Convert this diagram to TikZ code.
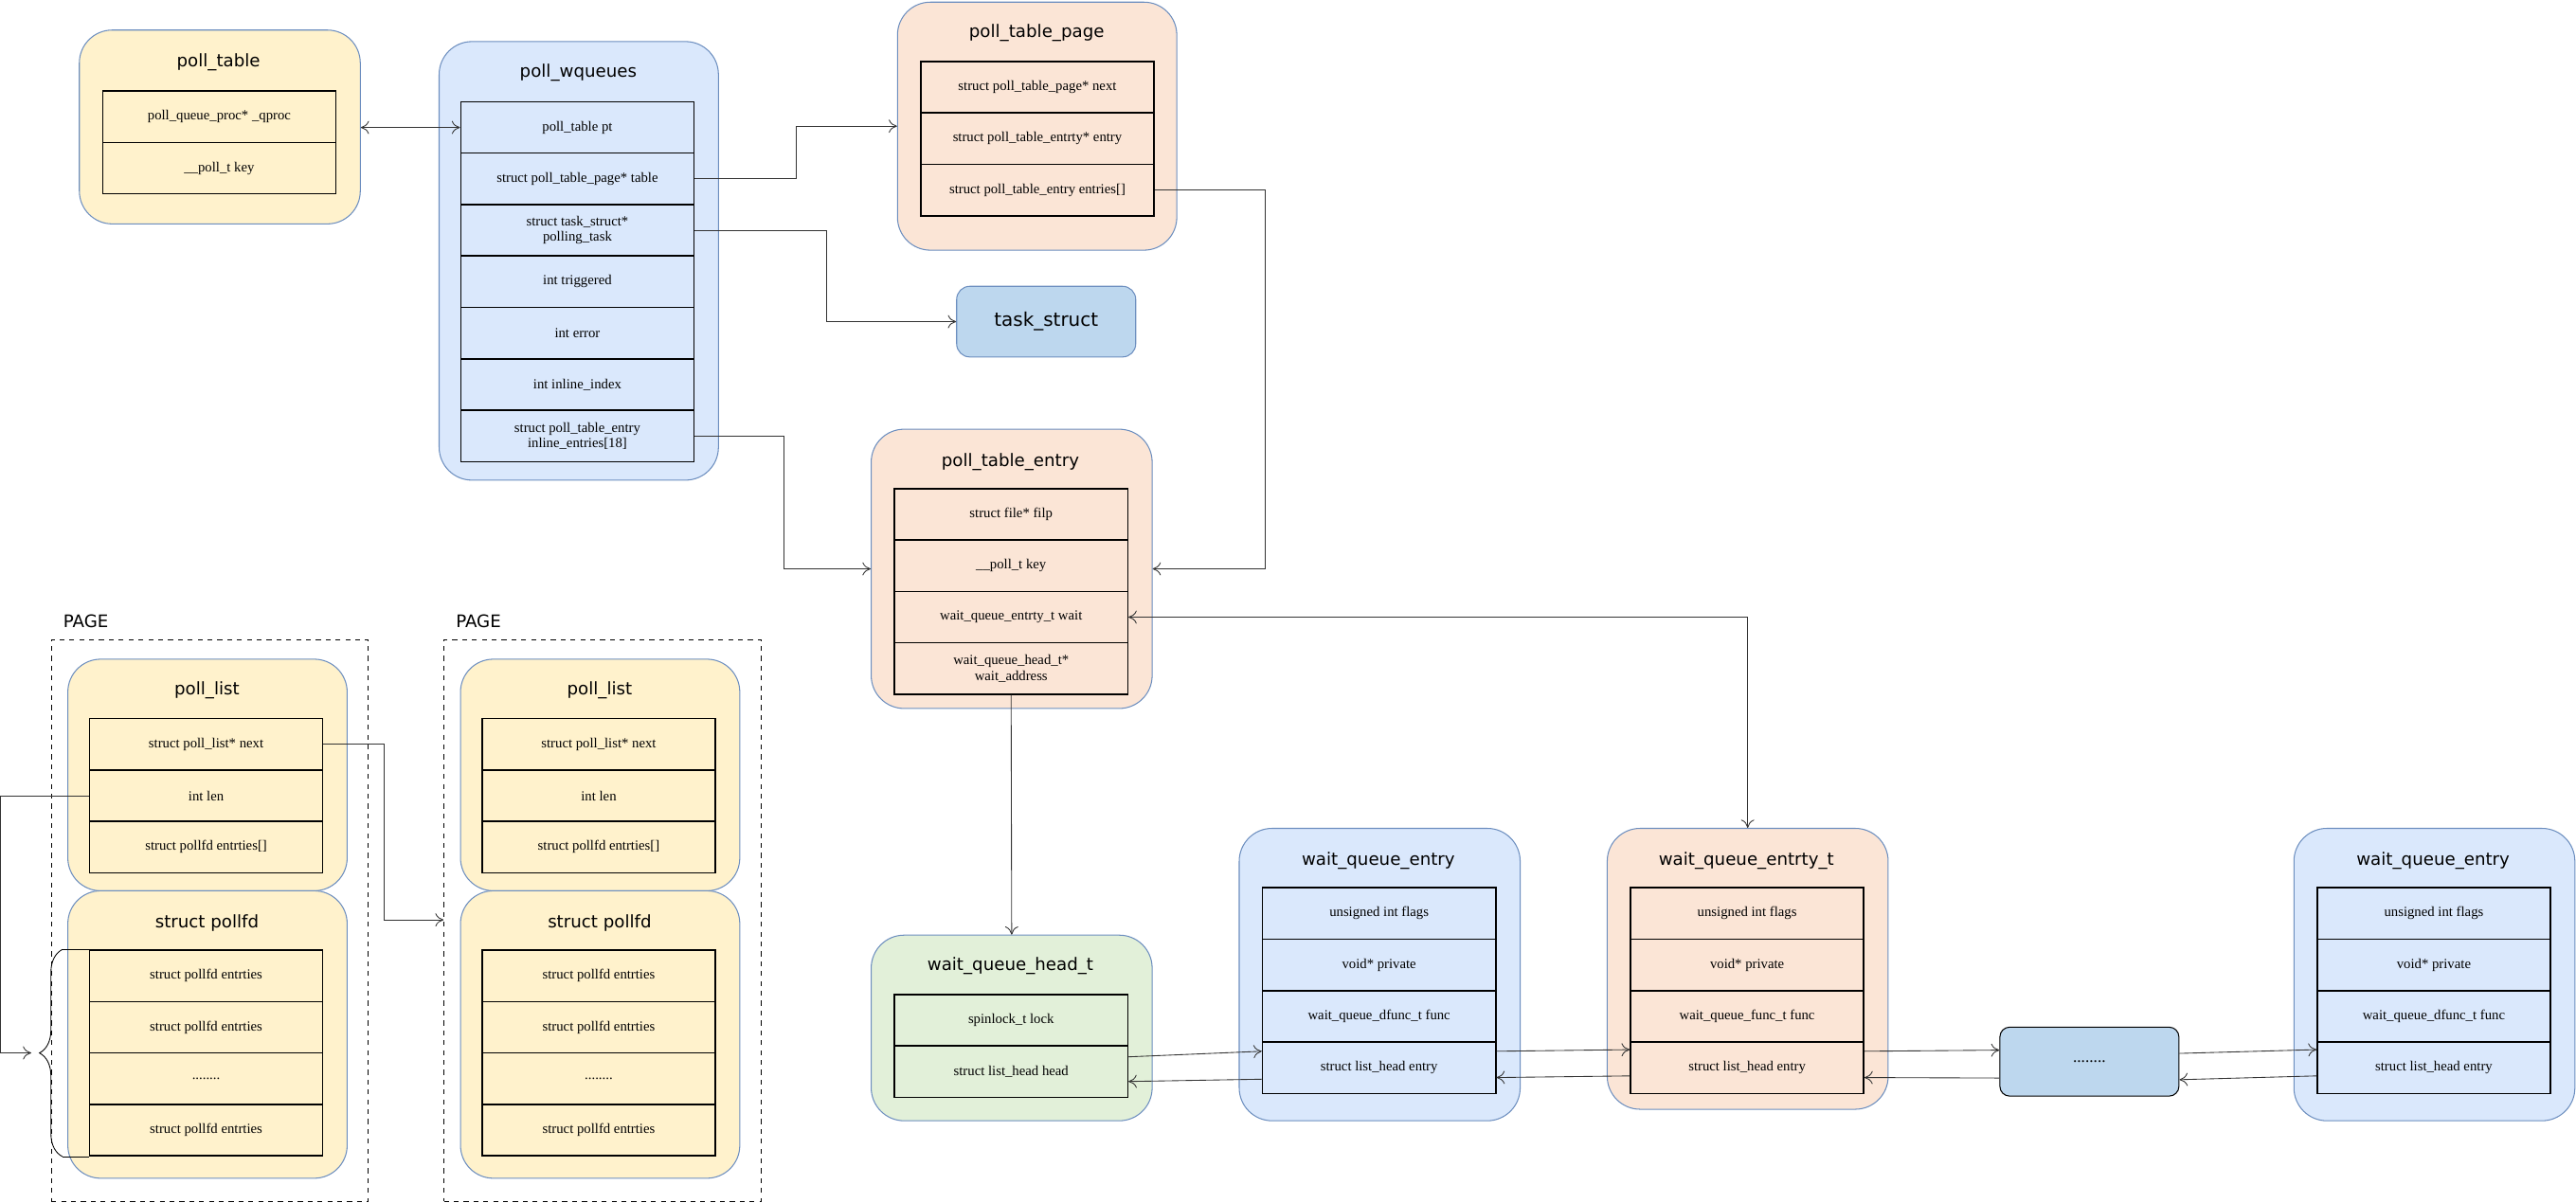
\documentclass[tikz,border=0pt]{standalone}
\usepackage{fontspec}
\setmainfont{Liberation Serif}
\newfontfamily\titlefont{DejaVu Sans}
\usetikzlibrary{arrows.meta,calc,decorations.pathreplacing}

\definecolor{ylw}{HTML}{FFF2CC}
\definecolor{blu}{HTML}{DAE8FC}
\definecolor{pch}{HTML}{FBE5D6}
\definecolor{grn}{HTML}{E2F0D9}
\definecolor{tsk}{HTML}{BDD7EE}
\definecolor{edge}{HTML}{6C8EBF}

\tikzset{
  box/.style={draw=edge, line width=0.6pt, rounded corners=20pt, anchor=north west, inner sep=0pt},
  ttl/.style={font=\titlefont\fontsize{10.5}{12}\selectfont},
  field/.style={draw, line width=0.9pt, minimum width=142pt, minimum height=31.3pt, inner sep=1pt,
    anchor=north west, align=center, font=\fontsize{8.5}{9.5}\selectfont},
  arr/.style={draw=black!80, line width=0.5pt, -{To[length=5pt,width=8pt]}},
}

\newcommand\ellip{........}
% column of fields: prefix, x, y, fill, texts
\newcommand\fieldcol[5]{%
  \foreach \t [count=\i] in {#5}
    \node[field, fill=#4] (#1\i) at (#2,{#3+31.3*(\i-1)}) {\t};}

\begin{document}
\begin{tikzpicture}[x=1pt,y=-1pt]
\useasboundingbox (0,0) rectangle (1568,732);

% containers
\node[box, fill=ylw, minimum width=171pt, minimum height=118pt] (ptab) at (48,18) {};
\node[box, fill=blu, minimum width=170pt, minimum height=267pt] (wq) at (267,25) {};
\node[box, fill=pch, minimum width=170pt, minimum height=151pt] (ptp) at (546,1) {};
\node[box, fill=tsk, rounded corners=8pt, minimum width=109pt, minimum height=43pt] (task) at (582,174) {};
\node[box, fill=pch, minimum width=171pt, minimum height=170pt] (pte) at (530,261) {};
\node[box, fill=grn, minimum width=171pt, minimum height=113pt] (wqh) at (530,569) {};
\node[box, fill=blu, minimum width=171pt, minimum height=178pt] (wqeA) at (754,504) {};
\node[box, fill=pch, minimum width=171pt, minimum height=171pt] (wqet) at (978,504) {};
\node[box, fill=tsk, draw=black, rounded corners=6pt, minimum width=109pt, minimum height=42pt] (dots) at (1217,625) {};
\node[box, fill=blu, minimum width=171pt, minimum height=178pt] (wqeB) at (1396,504) {};

% pages
\node[draw, dashed, line width=0.5pt, anchor=north west, minimum width=193pt, minimum height=342pt] (page1) at (31,389) {};
\node[draw, dashed, line width=0.5pt, anchor=north west, minimum width=193pt, minimum height=342pt] (page2) at (270,389) {};
\node[ttl, anchor=west] at (35,378) {PAGE};
\node[ttl, anchor=west] at (274,378) {PAGE};
\node[box, fill=ylw, minimum width=170pt, minimum height=141pt] (plA) at (41,401) {};
\node[box, fill=ylw, minimum width=170pt, minimum height=175pt] (pfA) at (41,542) {};
\node[box, fill=ylw, minimum width=170pt, minimum height=141pt] (plB) at (280,401) {};
\node[box, fill=ylw, minimum width=170pt, minimum height=175pt] (pfB) at (280,542) {};

% titles
\node[ttl] at (133,38) {poll\_table};
\node[ttl] at (352,44) {poll\_wqueues};
\node[ttl] at (631,20) {poll\_table\_page};
\node[ttl, font=\titlefont\fontsize{11.5}{13}\selectfont] at (task.center) {task\_struct};
\node[ttl] at (615,281) {poll\_table\_entry};
\node[ttl] at (615,588) {wait\_queue\_head\_t};
\node[ttl] at (839,524) {wait\_queue\_entry};
\node[ttl] at (1063,524) {wait\_queue\_entrty\_t};
\node at (dots.center) {\ellip};
\node[ttl] at (1481,524) {wait\_queue\_entry};
\node[ttl] at (126,420) {poll\_list};
\node[ttl] at (126,562) {struct pollfd};
\node[ttl] at (365,420) {poll\_list};
\node[ttl] at (365,562) {struct pollfd};

% fields
\fieldcol{ptabf}{62}{55}{ylw}{poll\_queue\_proc* \_qproc,\_\_poll\_t key}
\fieldcol{wqf}{280}{61.5}{blu}{poll\_table pt,struct poll\_table\_page* table,{struct task\_struct*\\polling\_task},int triggered,int error,int inline\_index,{struct poll\_table\_entry\\inline\_entries[18]}}
\fieldcol{ptpf}{560}{37}{pch}{struct poll\_table\_page* next,struct poll\_table\_entrty* entry,struct poll\_table\_entry entries[]}
\fieldcol{ptef}{544}{297}{pch}{struct file* filp,\_\_poll\_t key,wait\_queue\_entrty\_t wait,{wait\_queue\_head\_t*\\wait\_address}}
\fieldcol{wqhf}{544}{605}{grn}{spinlock\_t lock,struct list\_head head}
\fieldcol{wqeAf}{768}{540}{blu}{unsigned int flags,void* private,wait\_queue\_dfunc\_t func,struct list\_head entry}
\fieldcol{wqetf}{992}{540}{pch}{unsigned int flags,void* private,wait\_queue\_func\_t func,struct list\_head entry}
\fieldcol{wqeBf}{1410}{540}{blu}{unsigned int flags,void* private,wait\_queue\_dfunc\_t func,struct list\_head entry}
\fieldcol{plAf}{54}{437}{ylw}{struct poll\_list* next,int len,struct pollfd entrties[]}
\fieldcol{pfAf}{54}{578}{ylw}{struct pollfd entrties,struct pollfd entrties,\ellip,struct pollfd entrties}
\fieldcol{plBf}{293}{437}{ylw}{struct poll\_list* next,int len,struct pollfd entrties[]}
\fieldcol{pfBf}{293}{578}{ylw}{struct pollfd entrties,struct pollfd entrties,\ellip,struct pollfd entrties}

% connectors
\draw[arr, {To[length=5pt,width=8pt]}-{To[length=5pt,width=8pt]}] (ptab.east |- wqf1) -- (wqf1.west);
\draw[arr] (wqf2.east) -- ++(62,0) |- (ptp.west);
\draw[arr] (wqf3.east) -- ++(80,0) |- (task.west);
\draw[arr] (wqf7.east) -- ++(54,0) |- (pte.west);
\draw[arr] (ptpf3.east) -- ++(67,0) |- (pte.east);
\draw[arr, {To[length=5pt,width=8pt]}-{To[length=5pt,width=8pt]}] (ptef3.east) -| (wqet.north);
\draw[arr] (ptef4.south) -- (wqh.north);

\draw[arr] ([yshift=9pt]wqhf2.east) -- ([yshift=10pt]wqeAf4.west);
\draw[arr] ([yshift=-7pt]wqeAf4.west) -- ([yshift=-6pt]wqhf2.east);
\draw[arr] ([yshift=10pt]wqeAf4.east) -- ([yshift=11pt]wqetf4.west);
\draw[arr] ([yshift=-5pt]wqetf4.west) -- ([yshift=-6pt]wqeAf4.east);
\draw[arr] ([yshift=10pt]wqetf4.east) -- ([yshift=7pt]dots.west);
\draw[arr] ([yshift=-10pt]dots.west) -- ([yshift=-6pt]wqetf4.east);
\draw[arr] ([yshift=5pt]dots.east) -- ([yshift=11pt]wqeBf4.west);
\draw[arr] ([yshift=-5pt]wqeBf4.west) -- ([yshift=-11pt]dots.east);

\draw[arr] (plAf1.east) -- ++(37,0) |- ($(page2.west |- pfB.north)+(0,18)$);
\coordinate (brA) at (19,641);
\draw[arr] (plAf2.west) -- ++(-54,0) |- (brA);
\draw[line width=0.5pt, decorate, decoration={brace, amplitude=14pt}]
  ($(pfAf4.south west)+(-16,0)$) -- ($(pfAf1.north west)+(-16,0)$);
\draw[line width=0.5pt] ($(pfAf4.south west)+(-16,0)$) -- (pfAf4.south west);
\draw[line width=0.5pt] ($(pfAf1.north west)+(-16,0)$) -- (pfAf1.north west);
\end{tikzpicture}
\end{document}
